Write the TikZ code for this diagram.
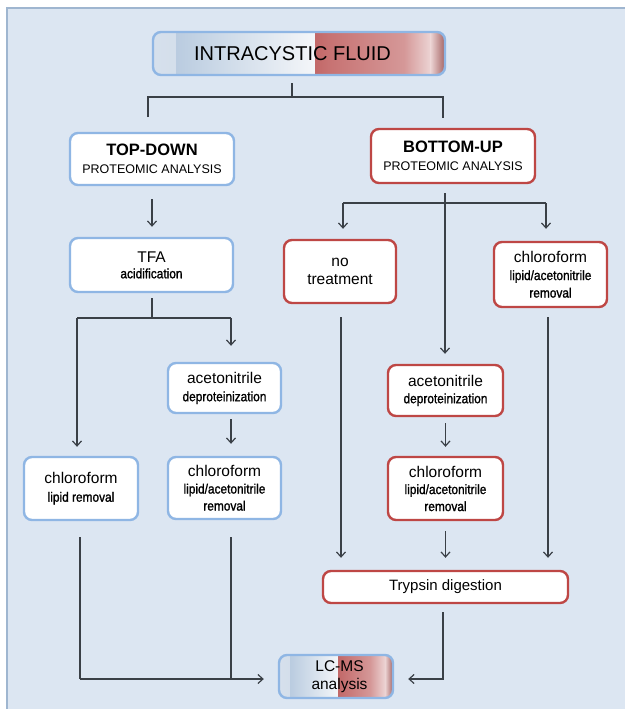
\documentclass[tikz,border=0pt]{standalone}
\usepackage{fontspec}
\setmainfont{Liberation Sans}
\newfontfamily\narrowf[FakeStretch=0.88,FakeBold=1.3]{Liberation Sans}
\usetikzlibrary{arrows.meta,calc}
\definecolor{bgc}{HTML}{DCE6F2}
\definecolor{framec}{HTML}{9FB6D0}
\definecolor{bblue}{HTML}{8FB6E4}
\definecolor{bred}{HTML}{BE4745}
\definecolor{lc}{HTML}{3A4047}
\definecolor{ga}{HTML}{D6E0EC}
\definecolor{gb}{HTML}{BACCE0}
\definecolor{gc}{HTML}{F4F6F9}
\definecolor{gd}{HTML}{C26868}
\definecolor{ge}{HTML}{C77272}
\definecolor{gf}{HTML}{D59898}
\definecolor{gg}{HTML}{ECD4D4}
\definecolor{gh}{HTML}{A56464}
\newcommand\Lt{\fontsize{15.5}{18}\selectfont}
\newcommand\St{\narrowf\fontsize{13.5}{18}\selectfont}
\newcommand\gseg[4]{\shade[sharp corners,left color=#3,right color=#4] ($(path picture bounding box.south west)!#1!(path picture bounding box.south east)$) rectangle ($(path picture bounding box.north west)!#2!(path picture bounding box.north east)$);}
\tikzset{
  box/.style={line width=2.4pt, rounded corners=8pt, fill=white, align=center, inner sep=0pt, text=black, font=\fontsize{13.5}{18}\selectfont},
  bluebox/.style={box, draw=bblue},
  redbox/.style={box, draw=bred},
  conn/.style={draw=lc, line width=1.2pt},
  arr/.style={conn, -{Straight Barb[length=5pt,width=9pt,line width=1.2pt]}},
}
\begin{document}
\begin{tikzpicture}[x=1pt,y=-1pt]
\useasboundingbox (0,0) rectangle (625,709);
\fill[white] (0,0) rectangle (625,709);
\fill[bgc] (7,8) rectangle (625,709);
\draw[framec, line width=1.2pt] (7,709) -- (7,8) -- (625,8);

% gradient boxes
\node[bluebox, fill=none, minimum width=292pt, minimum height=43pt,
  path picture={\gseg{0}{0.081}{ga}{gb}\gseg{0.08}{0.556}{gb}{gc}\gseg{0.555}{0.601}{gd}{ge}\gseg{0.6}{0.861}{ge}{gf}\gseg{0.86}{0.951}{gf}{gg}\gseg{0.95}{1}{gg}{gh}}]
  (ICF) at (299,53.5) {\fontsize{20}{24}\selectfont INTRACYSTIC FLUID\hspace*{13pt}};
\node[bluebox, fill=none, minimum width=114pt, minimum height=43pt, font=\fontsize{15.5}{18}\selectfont,
  path picture={\gseg{0}{0.101}{ga}{gb}\gseg{0.1}{0.521}{gb}{gc}\gseg{0.52}{0.801}{gd}{gf}\gseg{0.8}{0.931}{gf}{gg}\gseg{0.93}{1}{gg}{gh}}]
  (LC) at (336,676.5) {\hspace*{7pt}\Lt LC-MS\\\hspace*{7pt}\Lt analysis};

% top-down side
\node[bluebox, minimum width=164pt, minimum height=52pt] (TD) at (152,159)
  {\fontsize{16.5}{19}\selectfont\bfseries TOP-DOWN\\\fontsize{12.5}{15}\selectfont PROTEOMIC ANALYSIS};
\node[bluebox, minimum width=163pt, minimum height=54pt, font=\fontsize{13.5}{16}\selectfont] (TFA) at (151.5,265)
  {\Lt TFA\\\St acidification};
\node[bluebox, minimum width=113pt, minimum height=50pt] (AL) at (224.5,388)
  {\Lt acetonitrile\\\St deproteinization};
\node[bluebox, minimum width=114pt, minimum height=63pt] (CL) at (81,488.5)
  {\Lt chloroform\\\St lipid removal};
\node[bluebox, minimum width=113pt, minimum height=62pt, font=\fontsize{13.5}{17}\selectfont] (CLA) at (224.5,488)
  {\Lt chloroform\\\St lipid/acetonitrile\\\St removal};

% bottom-up side
\node[redbox, minimum width=164pt, minimum height=54pt] (BU) at (453,156)
  {\fontsize{16.5}{19}\selectfont\bfseries BOTTOM-UP\\\fontsize{12.5}{15}\selectfont PROTEOMIC ANALYSIS};
\node[redbox, minimum width=112pt, minimum height=63pt] (NT) at (340,271.5)
  {\Lt no\\\Lt treatment};
\node[redbox, minimum width=113pt, minimum height=65pt, font=\fontsize{13.5}{17.5}\selectfont] (CR) at (550.5,274.5)
  {\Lt chloroform\\\St lipid/acetonitrile\\\St removal};
\node[redbox, minimum width=115pt, minimum height=51pt, font=\fontsize{13.5}{17}\selectfont] (AR) at (445.5,390.5)
  {\Lt acetonitrile\\\St deproteinization};
\node[redbox, minimum width=115pt, minimum height=63pt, font=\fontsize{13.5}{17}\selectfont] (CRA) at (445.5,488.5)
  {\Lt chloroform\\\St lipid/acetonitrile\\\St removal};
\node[redbox, minimum width=245pt, minimum height=32pt] (TR) at (445.5,587)
  {\fontsize{15}{18}\selectfont Trypsin digestion};

% junction coordinates
\coordinate (j0) at (292,97);
\coordinate (tl) at (148,97);
\coordinate (tr) at (443,97);
\coordinate (k0) at (152,318);
\coordinate (kl) at (77,318);
\coordinate (kr) at (231,318);
\coordinate (bl) at (80,679);
\coordinate (bm) at (231,679);
\coordinate (r0) at (445,203);
\coordinate (rl) at (343,203);
\coordinate (rr) at (546,203);
\coordinate (xn) at (341,0);
\coordinate (xc) at (548,0);
\coordinate (rb) at (443,679);

% connectors: top split
\draw[conn] ($(ICF.south)+(-7,7)$) -- (j0);
\draw[conn] ($(tl)+(0,20)$) -- (tl) -- (tr) -- ($(tr)+(0,21)$);

% top-down branch
\draw[arr] ($(TD.south)+(0,13)$) -- ($(TD.south |- TFA.north)+(0,-10)$);
\draw[conn] ($(TFA.south -| k0)+(0,5)$) -- (k0);
\draw[conn] (kl) -- (kr);
\draw[arr] (kl) -- ($(CL.north -| kl)+(0,-9)$);
\draw[arr] (kr) -- ($(AL.north -| kr)+(0,-16)$);
\draw[arr] ($(AL.south -| kr)+(0,5)$) -- ($(CLA.north -| kr)+(0,-12)$);
\draw[conn] ($(CL.south -| bl)+(0,16)$) -- (bl);
\draw[conn] ($(CLA.south -| bm)+(0,17)$) -- (bm);
\draw[arr] (bl) -- ($(LC.west |- bl)+(-14,0)$);

% bottom-up branch
\draw[conn] ($(BU.south -| r0)+(0,9)$) -- (r0);
\draw[arr] (r0) -- ($(AR.north -| r0)+(0,-10)$);
\draw[conn] (rl) -- (rr);
\draw[arr] (rl) -- ($(NT.north -| rl)+(0,-10)$);
\draw[arr] (rr) -- ($(CR.north -| rr)+(0,-12)$);
\draw[arr] ($(NT.south -| xn)+(0,13)$) -- ($(TR.north -| xn)+(0,-12)$);
\draw[arr] ($(CR.south -| xc)+(0,9)$) -- ($(TR.north -| xc)+(0,-12)$);
\draw[arr] ($(AR.south)+(0,6)$) -- ($(AR.south |- CRA.north)+(0,-9)$);
\draw[arr] ($(CRA.south)+(0,10)$) -- ($(CRA.south |- TR.north)+(0,-12)$);
\draw[arr] ($(TR.south -| rb)+(0,8)$) -- (rb) -- ($(LC.east |- rb)+(14,0)$);
\end{tikzpicture}
\end{document}
